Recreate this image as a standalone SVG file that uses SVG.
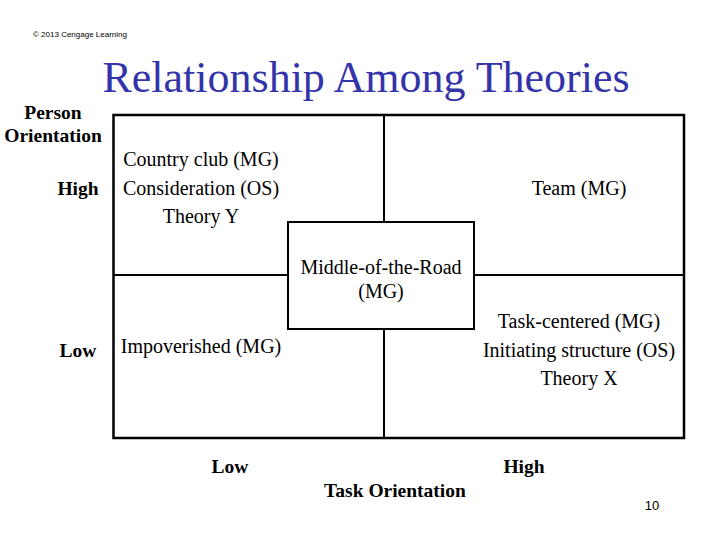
<svg xmlns="http://www.w3.org/2000/svg" width="720" height="540" viewBox="0 0 720 540">
<style>
.t{font-family:'Liberation Serif',serif;font-size:20px;fill:#000;text-anchor:middle}
.b{font-family:'Liberation Serif',serif;font-size:19.5px;font-weight:bold;fill:#000;text-anchor:middle}
.ln{stroke:#000;stroke-width:2;fill:none}
</style>
<rect width="720" height="540" fill="#fff"/>
<text x="33" y="37" font-family="Liberation Sans, Arial, sans-serif" font-size="8" fill="#000">© 2013 Cengage Learning</text>
<text x="366" y="92" font-family="Liberation Serif, serif" font-size="44" fill="#3333aa" text-anchor="middle">Relationship Among Theories</text>
<g id="axis-labels">
<text class="b" x="53" y="119">Person</text>
<text class="b" x="53" y="142">Orientation</text>
<text class="b" x="78" y="195">High</text>
<text class="b" x="78" y="357">Low</text>
<text class="b" x="230" y="473">Low</text>
<text class="b" x="524" y="473">High</text>
<text class="b" x="395" y="497">Task Orientation</text>
</g>
<g id="grid">
<rect x="113.5" y="115" width="570.5" height="323" fill="none" stroke="#000" stroke-width="2.5"/>
<path class="ln" d="M384 115V222M384 329V438M113.5 275H288M474 275H684"/>
<rect class="ln" x="288" y="222" width="186" height="107"/>
</g>
<g id="country-club">
<text class="t" x="201" y="166">Country club (MG)</text>
<text class="t" x="201" y="195">Consideration (OS)</text>
<text class="t" x="201" y="223">Theory Y</text>
</g>
<g id="team"><text class="t" x="579" y="195">Team (MG)</text></g>
<g id="middle">
<text class="t" x="381" y="274">Middle-of-the-Road</text>
<text class="t" x="381" y="298">(MG)</text>
</g>
<g id="impoverished"><text class="t" x="201" y="353">Impoverished (MG)</text></g>
<g id="task-centered">
<text class="t" x="579" y="328">Task-centered (MG)</text>
<text class="t" x="579" y="357">Initiating structure (OS)</text>
<text class="t" x="579" y="385">Theory X</text>
</g>
<text x="652" y="510" font-family="Liberation Sans, Arial, sans-serif" font-size="13" fill="#000" text-anchor="middle">10</text>
</svg>
